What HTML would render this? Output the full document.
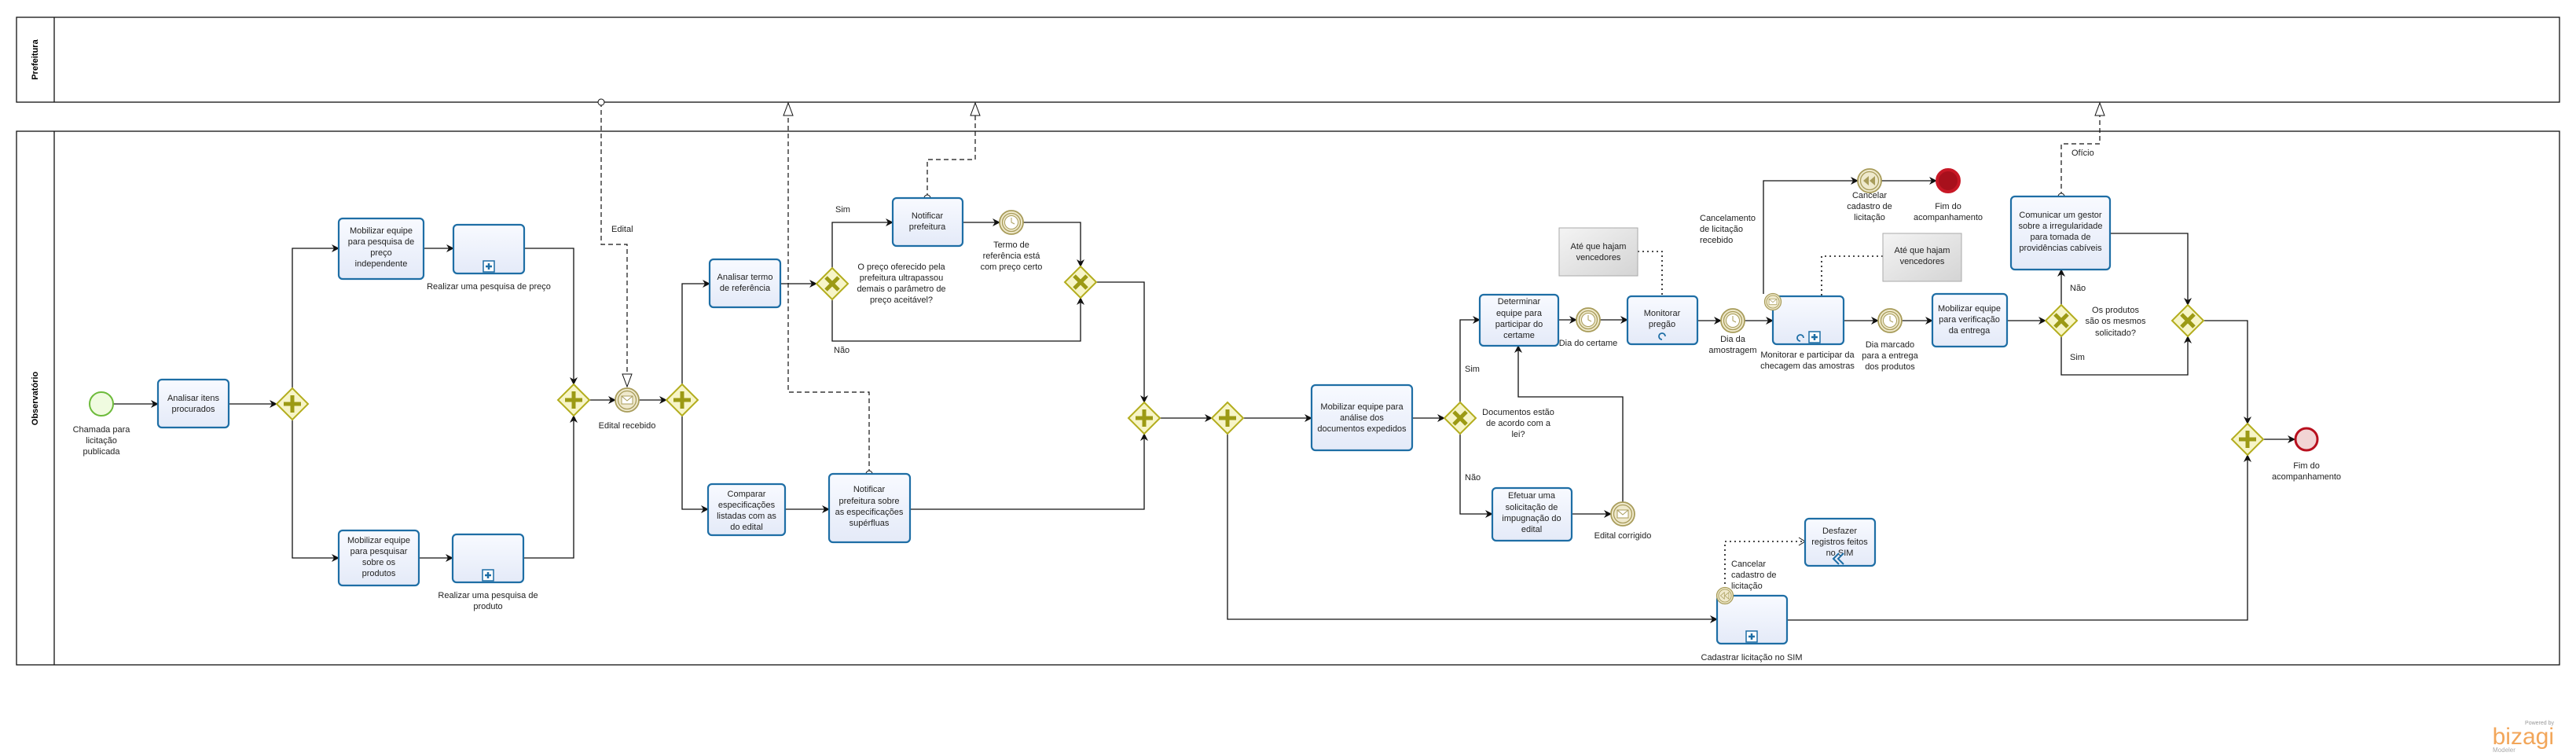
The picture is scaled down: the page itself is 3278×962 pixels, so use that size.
<!DOCTYPE html>
<html><head><meta charset="utf-8"><style>
html,body{margin:0;padding:0;background:#fff;}
svg{display:block;font-family:"Liberation Sans",sans-serif;}
.t{font-size:11px;fill:#222;text-anchor:middle;}
.l{font-size:11px;fill:#222;}
.c{fill:none;stroke:#111;stroke-width:1.3;}
.m{fill:none;stroke:#111;stroke-width:1.2;stroke-dasharray:6,4;}
.a{fill:none;stroke:#111;stroke-width:1.6;stroke-dasharray:2,4;}
.task{fill:url(#tg);stroke:#1e6ea5;stroke-width:2.2;}
</style></head><body>
<svg width="3278" height="962" viewBox="0 0 3278 962" xmlns="http://www.w3.org/2000/svg">
<defs>
<linearGradient id="tg" x1="0" y1="0" x2="0" y2="1"><stop offset="0" stop-color="#f8faff"/><stop offset="1" stop-color="#e4eaf8"/></linearGradient>
<linearGradient id="ag" x1="0" y1="0" x2="1" y2="1"><stop offset="0" stop-color="#f4f4f4"/><stop offset="1" stop-color="#d4d4d4"/></linearGradient>
<marker id="ar" markerWidth="10" markerHeight="10" refX="9" refY="5" orient="auto" markerUnits="userSpaceOnUse"><path d="M0,0 L10,5 L0,10 L3,5 z" fill="#111"/></marker>
<marker id="tri" markerWidth="18" markerHeight="14" refX="17" refY="7" orient="auto" markerUnits="userSpaceOnUse"><path d="M1,1 L17,7 L1,13 z" fill="#fff" stroke="#111"/></marker>
<marker id="oc" markerWidth="10" markerHeight="10" refX="5" refY="5" markerUnits="userSpaceOnUse"><circle cx="5" cy="5" r="4" fill="#fff" stroke="#111"/></marker>
<marker id="oa" markerWidth="10" markerHeight="12" refX="9" refY="6" orient="auto" markerUnits="userSpaceOnUse"><path d="M1,1 L9,6 L1,11" fill="none" stroke="#111"/></marker>
<g id="pgw"><path d="M0,-20 L20,0 L0,20 L-20,0 z" fill="#f7f5c8" stroke="#b3ad1e" stroke-width="2"/><path d="M0,-11 V11 M-11,0 H11" stroke="#9c9a14" stroke-width="5"/></g>
<g id="xgw"><path d="M0,-20 L20,0 L0,20 L-20,0 z" fill="#f7f5c8" stroke="#b3ad1e" stroke-width="2"/><path d="M-8,-8 L8,8 M8,-8 L-8,8" stroke="#9c9a14" stroke-width="5"/></g>
<g id="iev"><circle r="15" fill="#efe9cc" stroke="#a89c5a" stroke-width="1.8"/><circle r="11.5" fill="none" stroke="#a89c5a" stroke-width="1.3"/></g>
<g id="timer"><use href="#iev"/><circle r="8.5" fill="#fff" stroke="#a89c5a"/><path d="M0,-6 V0 L4,2" stroke="#a89c5a" fill="none"/></g>
<g id="msg"><use href="#iev"/><rect x="-7" y="-5" width="14" height="10" fill="#fff" stroke="#a89c5a"/><path d="M-7,-5 L0,1 L7,-5" fill="none" stroke="#a89c5a"/></g>
<g id="plus"><rect x="-7" y="-7" width="14" height="14" fill="#fff" stroke="#1e6ea5" stroke-width="1.5"/><path d="M0,-4 V4 M-4,0 H4" stroke="#1e6ea5" stroke-width="2.5"/></g>
</defs>

<!-- pools -->
<rect x="21" y="22" width="3236" height="108" fill="#fff" stroke="#111" stroke-width="1.3"/>
<line x1="69" y1="22" x2="69" y2="130" stroke="#111" stroke-width="1.3"/>
<text transform="translate(48,76) rotate(-90)" text-anchor="middle" font-size="11" font-weight="bold">Prefeitura</text>
<rect x="21" y="167" width="3236" height="679" fill="#fff" stroke="#111" stroke-width="1.3"/>
<line x1="69" y1="167" x2="69" y2="846" stroke="#111" stroke-width="1.3"/>
<text transform="translate(48,507) rotate(-90)" text-anchor="middle" font-size="11" font-weight="bold">Observatório</text>

<!-- connectors -->
<g marker-end="url(#ar)">
<path class="c" d="M144,514 H201"/>
<path class="c" d="M291,514 H352"/>
<path class="c" d="M372,494 V316 H431"/>
<path class="c" d="M372,534 V710 H431"/>
<path class="c" d="M539,316 H577"/>
<path class="c" d="M533,710 H576"/>
<path class="c" d="M667,316 H730 V489"/>
<path class="c" d="M666,710 H730 V529"/>
<path class="c" d="M750,509 H783"/>
<path class="c" d="M813,509 H848"/>
<path class="c" d="M868,489 V361 H903"/>
<path class="c" d="M868,529 V648 H901"/>
<path class="c" d="M993,361 H1039"/>
<path class="c" d="M1059,341 V283 H1136"/>
<path class="c" d="M1059,381 V434 H1375 V379"/>
<path class="c" d="M1225,283 H1272"/>
<path class="c" d="M1302,283 H1375 V339"/>
<path class="c" d="M1395,359 H1456 V512"/>
<path class="c" d="M999,648 H1055"/>
<path class="c" d="M1158,648 H1456 V552"/>
<path class="c" d="M1476,532 H1542"/>
<path class="c" d="M1582,532 H1669"/>
<path class="c" d="M1562,552 V788 H2185"/>
<path class="c" d="M1797,532 H1838"/>
<path class="c" d="M1858,512 V407 H1883"/>
<path class="c" d="M1858,552 V654 H1899"/>
<path class="c" d="M2000,654 H2050"/>
<path class="c" d="M2065,639 V505 H1932 V440"/>
<path class="c" d="M1983,407 H2006"/>
<path class="c" d="M2036,407 H2071"/>
<path class="c" d="M2160,408 H2190"/>
<path class="c" d="M2220,408 H2256"/>
<path class="c" d="M2244,374 V230 H2364"/>
<path class="c" d="M2394,230 H2464"/>
<path class="c" d="M2346,408 H2390"/>
<path class="c" d="M2420,408 H2459"/>
<path class="c" d="M2554,408 H2603"/>
<path class="c" d="M2623,388 V343"/>
<path class="c" d="M2623,428 V477 H2784 V428"/>
<path class="c" d="M2685,297 H2784 V388"/>
<path class="c" d="M2804,408 H2860 V539"/>
<path class="c" d="M2274,789 H2860 V579"/>
<path class="c" d="M2880,559 H2920"/>
</g>

<!-- message flows -->
<path class="m" d="M765,130 V311 H798 V492" marker-start="url(#oc)" marker-end="url(#tri)"/>
<path class="m" d="M1106,603 V499 H1003 V131" marker-start="url(#oc)" marker-end="url(#tri)"/>
<path class="m" d="M1180,252 V203 H1241 V131" marker-start="url(#oc)" marker-end="url(#tri)"/>
<path class="m" d="M2623,250 V183 H2672 V131" marker-start="url(#oc)" marker-end="url(#tri)"/>
<text class="l" x="778" y="295">Edital</text>
<text class="l" x="2636" y="198">Ofício</text>

<!-- associations -->
<path class="a" d="M2084,320 H2115 V377"/>
<path class="a" d="M2396,326 H2318 V377"/>
<path class="a" d="M2195,743 V689 H2297" marker-end="url(#oa)"/>

<!-- events -->
<circle cx="129" cy="514" r="15" fill="#f0fbe0" stroke="#6dbb3b" stroke-width="2"/>
<text class="t" x="129" y="550">Chamada para</text><text class="t" x="129" y="564">licitação</text><text class="t" x="129" y="578">publicada</text>
<use href="#msg" x="798" y="509"/><text class="t" x="798" y="545">Edital recebido</text>
<use href="#timer" x="1287" y="283"/>
<text class="t" x="1287" y="315">Termo de</text><text class="t" x="1287" y="329">referência está</text><text class="t" x="1287" y="343">com preço certo</text>
<use href="#timer" x="2021" y="407"/><text class="t" x="2021" y="440">Dia do certame</text>
<use href="#msg" x="2065" y="654"/><text class="t" x="2065" y="685">Edital corrigido</text>
<use href="#timer" x="2205" y="408"/><text class="t" x="2205" y="435">Dia da</text><text class="t" x="2205" y="449">amostragem</text>
<use href="#timer" x="2405" y="408"/><text class="t" x="2405" y="442">Dia marcado</text><text class="t" x="2405" y="456">para a entrega</text><text class="t" x="2405" y="470">dos produtos</text>
<g transform="translate(2379,230)"><use href="#iev"/><path d="M-1,-6 L-8,0 L-1,6 z M7,-6 L0,0 L7,6 z" fill="#a89c5a"/></g>
<text class="t" x="2379" y="252">Cancelar</text><text class="t" x="2379" y="266">cadastro de</text><text class="t" x="2379" y="280">licitação</text>
<circle cx="2479" cy="230" r="14" fill="#a8101c" stroke="#c81826" stroke-width="4"/>
<text class="t" x="2479" y="266">Fim do</text><text class="t" x="2479" y="280">acompanhamento</text>
<circle cx="2935" cy="559" r="14" fill="#f2d4d4" stroke="#b8101e" stroke-width="3"/>
<text class="t" x="2935" y="596">Fim do</text><text class="t" x="2935" y="610">acompanhamento</text>

<!-- gateways -->
<use href="#pgw" x="372" y="514"/>
<use href="#pgw" x="730" y="509"/>
<use href="#pgw" x="868" y="509"/>
<use href="#xgw" x="1059" y="361"/>
<use href="#xgw" x="1375" y="359"/>
<use href="#pgw" x="1456" y="532"/>
<use href="#pgw" x="1562" y="532"/>
<use href="#xgw" x="1858" y="532"/>
<use href="#xgw" x="2623" y="408"/>
<use href="#xgw" x="2784" y="408"/>
<use href="#pgw" x="2860" y="559"/>

<!-- gateway labels -->
<text class="l" x="1063" y="270">Sim</text><text class="l" x="1061" y="449">Não</text>
<text class="t" x="1147" y="343">O preço oferecido pela</text><text class="t" x="1147" y="357">prefeitura ultrapassou</text><text class="t" x="1147" y="371">demais o parâmetro de</text><text class="t" x="1147" y="385">preço aceitável?</text>
<text class="t" x="1932" y="528">Documentos estão</text><text class="t" x="1932" y="542">de acordo com a</text><text class="t" x="1932" y="556">lei?</text>
<text class="l" x="1864" y="473">Sim</text><text class="l" x="1864" y="611">Não</text>
<text class="l" x="2634" y="370">Não</text><text class="l" x="2634" y="458">Sim</text>
<text class="t" x="2692" y="398">Os produtos</text><text class="t" x="2692" y="412">são os mesmos</text><text class="t" x="2692" y="427">solicitado?</text>
<text class="l" x="2163" y="281">Cancelamento</text><text class="l" x="2163" y="295">de licitação</text><text class="l" x="2163" y="309">recebido</text>

<!-- tasks -->
<rect class="task" x="201" y="483" width="90" height="61" rx="5"/>
<text class="t" x="246" y="510">Analisar itens</text><text class="t" x="246" y="524">procurados</text>
<rect class="task" x="431" y="278" width="108" height="77" rx="5"/>
<text class="t" x="485" y="297">Mobilizar equipe</text><text class="t" x="485" y="311">para pesquisa de</text><text class="t" x="485" y="325">preço</text><text class="t" x="485" y="339">independente</text>
<rect class="task" x="577" y="286" width="90" height="62" rx="5"/><use href="#plus" x="622" y="339"/>
<text class="t" x="622" y="368">Realizar uma pesquisa de preço</text>
<rect class="task" x="431" y="675" width="102" height="70" rx="5"/>
<text class="t" x="482" y="691">Mobilizar equipe</text><text class="t" x="482" y="705">para pesquisar</text><text class="t" x="482" y="719">sobre os</text><text class="t" x="482" y="733">produtos</text>
<rect class="task" x="576" y="680" width="90" height="61" rx="5"/><use href="#plus" x="621" y="732"/>
<text class="t" x="621" y="761">Realizar uma pesquisa de</text><text class="t" x="621" y="775">produto</text>
<rect class="task" x="903" y="330" width="90" height="61" rx="5"/>
<text class="t" x="948" y="356">Analisar termo</text><text class="t" x="948" y="370">de referência</text>
<rect class="task" x="901" y="616" width="98" height="65" rx="5"/>
<text class="t" x="950" y="632">Comparar</text><text class="t" x="950" y="646">especificações</text><text class="t" x="950" y="660">listadas com as</text><text class="t" x="950" y="674">do edital</text>
<rect class="task" x="1055" y="603" width="103" height="87" rx="5"/>
<text class="t" x="1106" y="626">Notificar</text><text class="t" x="1106" y="641">prefeitura sobre</text><text class="t" x="1106" y="655">as especificações</text><text class="t" x="1106" y="669">supérfluas</text>
<rect class="task" x="1136" y="252" width="89" height="61" rx="5"/>
<text class="t" x="1180" y="278">Notificar</text><text class="t" x="1180" y="292">prefeitura</text>
<rect class="task" x="1669" y="490" width="128" height="83" rx="5"/>
<text class="t" x="1733" y="521">Mobilizar equipe para</text><text class="t" x="1733" y="535">análise dos</text><text class="t" x="1733" y="549">documentos expedidos</text>
<rect class="task" x="1883" y="375" width="100" height="65" rx="5"/>
<text class="t" x="1933" y="387">Determinar</text><text class="t" x="1933" y="402">equipe para</text><text class="t" x="1933" y="416">participar do</text><text class="t" x="1933" y="430">certame</text>
<rect class="task" x="1899" y="621" width="101" height="67" rx="5"/>
<text class="t" x="1949" y="634">Efetuar uma</text><text class="t" x="1949" y="649">solicitação de</text><text class="t" x="1949" y="663">impugnação do</text><text class="t" x="1949" y="677">edital</text>
<rect class="task" x="2071" y="377" width="89" height="61" rx="5"/>
<text class="t" x="2115" y="402">Monitorar</text><text class="t" x="2115" y="416">pregão</text>
<path d="M2119,428 a4,4 0 1 0 -4,4" fill="none" stroke="#1e6ea5" stroke-width="1.8"/>
<rect class="task" x="2256" y="377" width="90" height="61" rx="5"/>
<use href="#plus" x="2309" y="429"/>
<path d="M2295,430 a4,4 0 1 0 -4,4" fill="none" stroke="#1e6ea5" stroke-width="1.8"/>
<use href="#msg" x="2256" y="384" transform="translate(2256,384) scale(0.7) translate(-2256,-384)"/>
<text class="t" x="2300" y="455">Monitorar e participar da</text><text class="t" x="2300" y="469">checagem das amostras</text>
<rect class="task" x="2459" y="374" width="95" height="67" rx="5"/>
<text class="t" x="2506" y="396">Mobilizar equipe</text><text class="t" x="2506" y="410">para verificação</text><text class="t" x="2506" y="424">da entrega</text>
<rect class="task" x="2559" y="250" width="126" height="93" rx="5"/>
<text class="t" x="2622" y="277">Comunicar um gestor</text><text class="t" x="2622" y="291">sobre a irregularidade</text><text class="t" x="2622" y="305">para tomada de</text><text class="t" x="2622" y="319">providências cabíveis</text>
<rect class="task" x="2185" y="758" width="89" height="61" rx="5"/><use href="#plus" x="2229" y="810"/>
<text class="t" x="2229" y="840">Cadastrar licitação no SIM</text>
<g transform="translate(2195,758) scale(0.7)"><use href="#iev"/><path d="M-1,-6 L-8,0 L-1,6 z M7,-6 L0,0 L7,6 z" fill="none" stroke="#a89c5a"/></g>
<text class="l" x="2203" y="721">Cancelar</text><text class="l" x="2203" y="735">cadastro de</text><text class="l" x="2203" y="749">licitação</text>
<rect class="task" x="2297" y="660" width="89" height="60" rx="5"/>
<text class="t" x="2341" y="679">Desfazer</text><text class="t" x="2341" y="693">registros feitos</text><text class="t" x="2341" y="707">no SIM</text>
<path d="M2340,704 L2333,711 L2340,718 M2346,704 L2339,711 L2346,718" fill="none" stroke="#1e6ea5" stroke-width="2"/>

<!-- annotations -->
<rect x="1984" y="290" width="100" height="61" fill="url(#ag)" stroke="#aaa"/>
<text class="t" x="2034" y="317">Até que hajam</text><text class="t" x="2034" y="331">vencedores</text>
<rect x="2396" y="297" width="100" height="61" fill="url(#ag)" stroke="#aaa"/>
<text class="t" x="2446" y="322">Até que hajam</text><text class="t" x="2446" y="336">vencedores</text>

<!-- logo -->
<text x="3250" y="922" font-size="7" fill="#999" text-anchor="end">Powered by</text>
<text x="3250" y="947" font-size="30" fill="#f2a65a" text-anchor="end">bizagi</text>
<text x="3172" y="957" font-size="8" fill="#aaa">Modeler</text>
</svg>
</body></html>
